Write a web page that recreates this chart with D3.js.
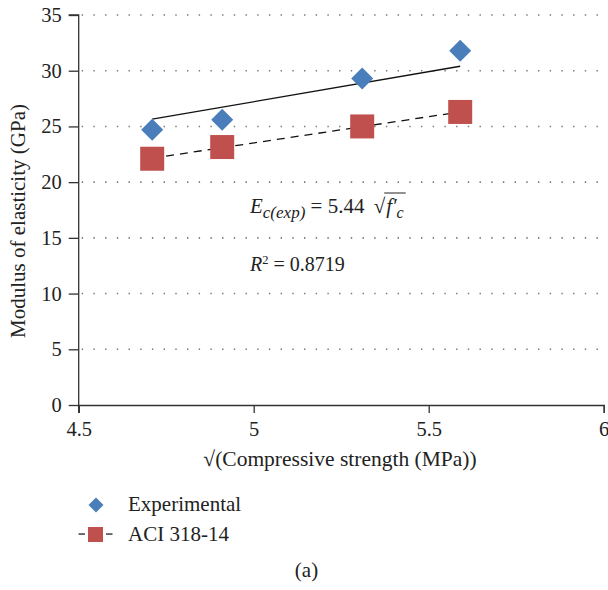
<!DOCTYPE html>
<html><head><meta charset="utf-8">
<script src="https://cdn.jsdelivr.net/npm/d3@7"></script>
<style>body{margin:0;background:#fff}</style>
</head><body>
<svg id="c" width="608" height="590" font-family="Liberation Serif"></svg>
<script>
const xVals = [4.71, 4.91, 5.31, 5.59];
const experimental = [24.7, 25.6, 29.3, 31.8];
const aci = [22.1, 23.15, 25.0, 26.3];
const fitX = [4.71, 5.59];
const fitExp = [25.65, 30.4];
const fitAci = [22.15, 26.3];
const xTicks = [4.5, 5, 5.5, 6];
const yTicks = [0, 5, 10, 15, 20, 25, 30, 35];

const FONT = "Liberation Serif";
const svg = d3.select("#c");
const x = d3.scaleLinear().domain([4.5, 6]).range([78.7, 603.7]);
const y = d3.scaleLinear().domain([0, 35]).range([405, 15]);

// grid
svg.append("g").selectAll("line").data(yTicks.filter(d => d > 0)).join("line")
  .attr("x1", x(4.5) + 3).attr("x2", x(6)).attr("y1", d => y(d)).attr("y2", d => y(d))
  .attr("stroke", "#777").attr("stroke-width", 1.6).attr("stroke-dasharray", "1.4,10.3")
  .attr("stroke-linecap", "butt");

// axes
const yAxis = svg.append("g").attr("transform", `translate(${x(4.5)},0)`)
  .call(d3.axisLeft(y).tickValues(yTicks).tickSize(10).tickPadding(7));
const xAxis = svg.append("g").attr("transform", `translate(0,${y(0)})`)
  .call(d3.axisBottom(x).tickValues(xTicks).tickSize(8).tickPadding(8).tickFormat(d3.format("")));
[yAxis, xAxis].forEach(a => {
  a.attr("font-family", FONT).attr("font-size", 20.5);
  a.select(".domain").attr("stroke", "#333").attr("stroke-width", 1.3);
  a.selectAll(".tick line").attr("stroke", "#333").attr("stroke-width", 1.3);
  a.selectAll("text").attr("font-family", FONT).attr("font-size", 20.5).attr("fill", "#222");
});
yAxis.select(".domain").attr("d", `M-10,${y(35)}H0V${y(0) + 8}`);

// fit lines
const line = d3.line().x(d => x(d[0])).y(d => y(d[1]));
svg.append("path").attr("d", line(fitX.map((v, i) => [v, fitExp[i]])))
  .attr("stroke", "#111").attr("stroke-width", 1.3).attr("fill", "none");
svg.append("path").attr("d", line(fitX.map((v, i) => [v, fitAci[i]])))
  .attr("stroke", "#111").attr("stroke-width", 1.3).attr("fill", "none")
  .attr("stroke-dasharray", "8,6");

// markers
svg.append("g").selectAll("rect").data(xVals).join("rect")
  .attr("x", d => x(d) - 12).attr("y", (d, i) => y(aci[i]) - 12)
  .attr("width", 24).attr("height", 24).attr("fill", "#c0504d");
const dia = d3.symbol().type(d3.symbolSquare).size(242);
svg.append("g").selectAll("path").data(xVals).join("path")
  .attr("d", dia())
  .attr("transform", (d, i) => `translate(${x(d)},${y(experimental[i])}) rotate(45)`)
  .attr("fill", "#4a7ebb");

// equation
const eq = svg.append("text").attr("x", 250).attr("y", 213).attr("font-family", FONT)
  .attr("font-size", 21).attr("fill", "#222");
eq.append("tspan").attr("font-style", "italic").text("E");
eq.append("tspan").attr("font-style", "italic").attr("font-size", 17).attr("dy", 5).text("c(exp)");
eq.append("tspan").attr("dy", -5).text(" = 5.44 ");
eq.append("tspan").attr("dx", 4).text("√");
const rad = eq.append("tspan").attr("font-style", "italic").attr("dx", 1).text("f′");
const sub = eq.append("tspan").attr("font-style", "italic").attr("font-size", 16).attr("dy", 5).text("c");
const rb = rad.node().getBBox(), sb = sub.node().getBBox();
svg.append("line").attr("x1", rb.x - 2).attr("x2", sb.x + sb.width + 2)
  .attr("y1", 193).attr("y2", 193).attr("stroke", "#222").attr("stroke-width", 1);

const r2 = svg.append("text").attr("x", 250).attr("y", 271).attr("font-family", FONT)
  .attr("font-size", 20).attr("fill", "#222");
r2.append("tspan").attr("font-style", "italic").text("R");
r2.append("tspan").attr("font-size", 12.5).attr("dy", -7).text("2");
r2.append("tspan").attr("dy", 7).text(" = 0.8719");

// axis titles
svg.append("text").attr("transform", "translate(25,221) rotate(-90)").attr("font-family", FONT)
  .attr("text-anchor", "middle").attr("font-size", 21).attr("fill", "#222")
  .text("Modulus of elasticity (GPa)");
svg.append("text").attr("x", 340).attr("y", 466).attr("font-family", FONT)
  .attr("text-anchor", "middle").attr("font-size", 21.5).attr("fill", "#222")
  .text("√(Compressive strength (MPa))");

// legend
svg.append("path").attr("d", d3.symbol().type(d3.symbolSquare).size(112)())
  .attr("transform", "translate(96,505) rotate(45)").attr("fill", "#4a7ebb");
svg.append("text").attr("x", 128).attr("y", 511).attr("font-family", FONT).attr("font-size", 21)
  .attr("fill", "#222").text("Experimental");
svg.append("rect").attr("x", 78.5).attr("y", 533.4).attr("width", 6.5).attr("height", 1.3).attr("fill", "#222");
svg.append("rect").attr("x", 88).attr("y", 527).attr("width", 15).attr("height", 15).attr("fill", "#c0504d");
svg.append("rect").attr("x", 106).attr("y", 533.4).attr("width", 6.5).attr("height", 1.3).attr("fill", "#222");
svg.append("text").attr("x", 128).attr("y", 541).attr("font-family", FONT).attr("font-size", 21)
  .attr("fill", "#222").text("ACI 318-14");
svg.append("text").attr("x", 306.5).attr("y", 577).attr("text-anchor", "middle").attr("font-family", FONT)
  .attr("font-size", 21).attr("fill", "#222").text("(a)");
</script>
</body></html>
